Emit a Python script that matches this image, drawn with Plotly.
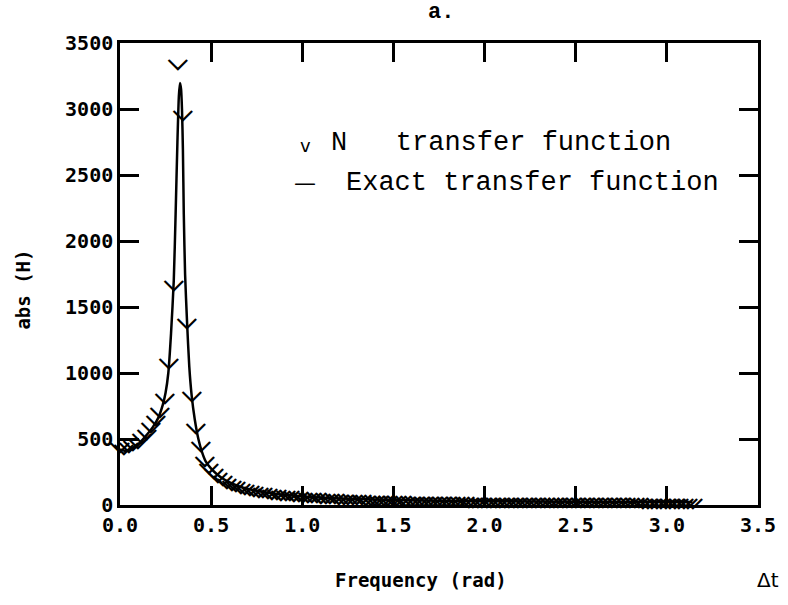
import numpy as np
import plotly.graph_objects as go

# ---- data ----
step = np.pi / 128
marker_k = list(range(129))
marker_freq = [k * step for k in marker_k]
marker_abs = [
    440, 430, 440, 455, 477, 508, 545, 591, 644, 705,
    818, 1083, 1667, 3348, 2955, 1379, 833, 590, 450, 340,
    285, 245, 215, 190, 172, 158, 146, 136, 127, 119,
    112, 106, 100, 95, 90, 86, 82, 79, 76, 73,
    70, 68, 66, 63, 61, 59, 57, 55, 54, 52,
    51, 50, 48, 47, 46, 45, 44, 43, 42, 41,
    40, 39, 39, 38, 37, 37, 36, 35, 35, 34,
    34, 33, 33, 32, 32, 31, 31, 31, 30, 30,
    30, 29, 29, 29, 28, 28, 28, 28, 27, 27,
    27, 27, 26, 26, 26, 26, 26, 25, 25, 25,
    25, 25, 25, 24, 24, 24, 24, 24, 24, 23,
    23, 23, 23, 23, 23, 23, 23, 22, 22, 22,
    22, 22, 22, 22, 22, 22, 22, 22, 22,
]

exact_freq = [0.0, 0.03, 0.06, 0.10, 0.14, 0.18, 0.21, 0.235, 0.25, 0.265,
              0.28, 0.295, 0.305, 0.315, 0.323, 0.329, 0.335, 0.340, 0.345, 0.350,
              0.357, 0.368, 0.38, 0.393, 0.41, 0.43, 0.45, 0.47, 0.50, 0.53,
              0.57, 0.62, 0.68, 0.75, 0.85, 1.0, 1.2, 1.5, 2.0, 2.5, 3.0, 3.14]
exact_abs = [420, 410, 425, 460, 520, 590, 660, 760, 850, 1000,
             1300, 1700, 2200, 2750, 3100, 3197, 3150, 3000, 2700, 2200,
             1750, 1380, 1050, 830, 650, 500, 400, 330, 275, 235,
             195, 160, 130, 108, 85, 65, 50, 38, 29, 25, 22, 22]

x_ticks = [0.0, 0.5, 1.0, 1.5, 2.0, 2.5, 3.0, 3.5]
y_ticks = [0, 500, 1000, 1500, 2000, 2500, 3000, 3500]

title_text = "a."
legend_n = "N   transfer function"
legend_exact = "Exact transfer function"
x_title = "Frequency (rad)"
y_title = "abs (H)"

# ---- figure ----
W, H = 788, 605
L, R, T, B = 120, 26, 43, 100
pw, ph = W - L - R, H - T - B

def px(x):
    return (x - L) / pw

def py(y):
    return (H - B - y) / ph

fig = go.Figure()
fig.add_trace(go.Scatter(
    x=exact_freq, y=exact_abs, mode="lines",
    line=dict(color="black", width=2.5, shape="spline", smoothing=0.6),
    name="Exact transfer function", showlegend=False, cliponaxis=False,
))
fig.add_trace(go.Scatter(
    x=marker_freq, y=marker_abs, mode="text", text=["⌵"] * len(marker_freq),
    textposition="middle center",
    textfont=dict(family="DejaVu Sans", size=26, color="black", weight="bold"),
    name="N transfer function", showlegend=False, cliponaxis=False,
))

tick_font = dict(family="DejaVu Sans Mono", size=20, color="black", weight="bold")
axis_common = dict(
    showgrid=False, zeroline=False, showline=True, linecolor="black", linewidth=2.5,
    mirror="ticks", ticks="inside", ticklen=19, tickwidth=2.5, tickcolor="black",
    tickfont=tick_font,
)
fig.update_xaxes(range=[0, 3.5], tickvals=x_ticks,
                 ticktext=[f"{v:.1f}" for v in x_ticks], **axis_common)
fig.update_yaxes(range=[0, 3500], tickvals=y_ticks,
                 ticktext=[str(v) for v in y_ticks], **axis_common)

ann = []
ann.append(dict(text=title_text, x=px(443), y=py(12), xref="paper", yref="paper",
                showarrow=False, xanchor="center", yanchor="middle",
                font=dict(family="Liberation Mono", size=22, color="black", weight="bold")))
ann.append(dict(text="v", x=px(307), y=py(146), xref="paper", yref="paper",
                showarrow=False, xanchor="center", yanchor="middle",
                font=dict(family="DejaVu Sans", size=18, color="black")))
ann.append(dict(text=legend_n, x=px(330), y=py(143), xref="paper", yref="paper",
                showarrow=False, xanchor="left", yanchor="middle",
                font=dict(family="Liberation Mono", size=27, color="black")))
ann.append(dict(text="—", x=px(306), y=py(183), xref="paper", yref="paper",
                showarrow=False, xanchor="center", yanchor="middle",
                font=dict(family="DejaVu Sans", size=22, color="black")))
ann.append(dict(text=legend_exact, x=px(345), y=py(183), xref="paper", yref="paper",
                showarrow=False, xanchor="left", yanchor="middle",
                font=dict(family="Liberation Mono", size=27, color="black")))
ann.append(dict(text=x_title, x=px(423), y=py(580), xref="paper", yref="paper",
                showarrow=False, xanchor="center", yanchor="middle",
                font=dict(family="DejaVu Sans Mono", size=19, color="black", weight="bold")))
ann.append(dict(text="Δt", x=px(772), y=py(580), xref="paper", yref="paper",
                showarrow=False, xanchor="center", yanchor="middle",
                font=dict(family="DejaVu Sans", size=20, color="black")))
ann.append(dict(text=y_title, x=px(22), y=py(290), xref="paper", yref="paper",
                showarrow=False, xanchor="center", yanchor="middle", textangle=-90,
                font=dict(family="DejaVu Sans Mono", size=19, color="black", weight="bold")))

fig.update_layout(
    width=W, height=H, margin=dict(l=L, r=R, t=T, b=B),
    paper_bgcolor="white", plot_bgcolor="white",
    annotations=ann, showlegend=False,
)
fig.write_html("out.html")
